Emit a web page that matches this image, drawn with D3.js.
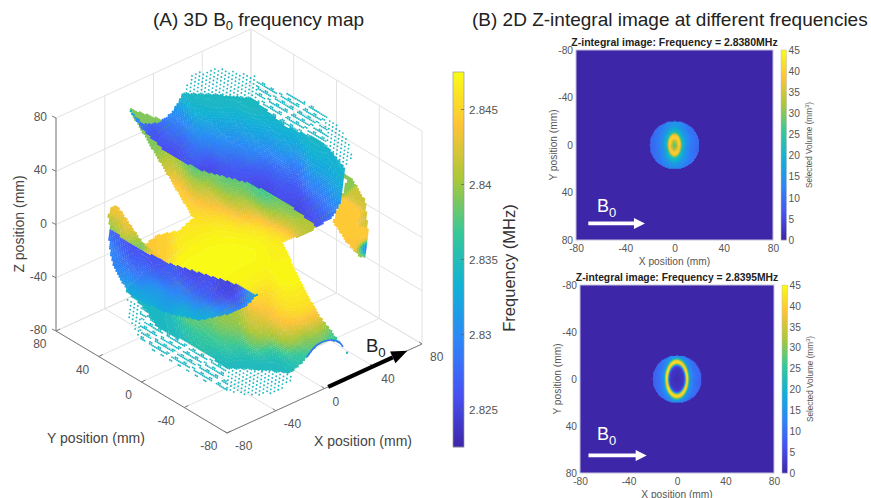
<!DOCTYPE html>
<html><head><meta charset="utf-8">
<script src="https://cdn.jsdelivr.net/npm/d3@7"></script>
<style>
html,body{margin:0;padding:0;background:#fff}
text{font-family:"Liberation Sans",Arial,sans-serif}
</style></head><body><svg id="c" width="871" height="498"></svg>
<script>
// ---------- values ----------
const axisTicks=[-80,-40,0,40,80];
const freqTicks=[2.825,2.83,2.835,2.84,2.845];
const freqTickLabels=["2.825","2.83","2.835","2.84","2.845"];
const freqDomain=[2.8225,2.8475];
const volumeTicks=[0,5,10,15,20,25,30,35,40,45];
const parulaStops=["#3e26a8","#4852f4","#2d87f7","#11b1d6","#37c897","#abc739","#fec338","#f9fb15"];

// surface outlines: [view-horizontal mm, view-vertical mm]
const topLobeOutline=[[-83.25,92.25],[-72,80.25],[-60.75,81],[-50.25,88.5],[-42,103.5],[-14.25,102],[10.5,99.75],[23.25,88.5],[36,78],[60.75,68.25],[70.5,58.5],[79.5,47.25],[79.5,42],[75.75,21],[69.75,9.75],[58.5,3],[45.75,13.5],[33,23.25],[8.25,36],[-29.25,45.75],[-54,58.5],[-72,75.75]];
const topFringeOutline=[[-42,103.5],[-35.25,118.5],[-14.25,122.25],[10.5,117],[30.75,105.75],[51,96],[73.5,81],[83.25,66],[84.75,54.75],[79.5,47.25],[70.5,58.5],[60.75,68.25],[36,78],[23.25,88.5],[10.5,99.75],[-14.25,102]];
const sheetOutline=[[-83.25,92.25],[-34.5,9.75],[-44.25,0.75],[-61.5,-3],[-70.5,-10.5],[-59.25,-24],[-85.5,-44.25],[-72,-57],[-61.5,-72],[-39,-84],[-21.75,-94.5],[-9,-102.75],[15.75,-104.25],[38.25,-106.5],[46,-100],[51,-94.5],[58.5,-85.5],[68.25,-81.75],[75.75,-84],[83.25,-94.5],[70.5,-76.5],[60.75,-64.5],[45.75,-36.75],[33,-9],[55.5,0.75],[68.25,12],[8.25,60.75]];
const fanFringeOutline=[[-84,-49.5],[-83.25,-64.5],[-74.25,-81.75],[-63,-91.5],[-31.5,-110.25],[-4.5,-121.5],[15.75,-124.5],[30.75,-119.25],[39.75,-111.75],[38.25,-106.5],[15.75,-104.25],[-9,-102.75],[-21.75,-94.5],[-39,-84],[-61.5,-72],[-72,-57]];
const lowerLobeOutline=[[-96.75,2.25],[-85.5,-6.75],[-72,-14.25],[-55.5,-23.25],[-29.25,-31.5],[-4.5,-39],[13.5,-48],[8.25,-54],[-4.5,-61.5],[-29.25,-66.75],[-54,-61.5],[-79.5,-49.5],[-89.25,-36.75],[-94.5,-25.5],[-97.5,-10.5]];
const stripeOutline=[[-95.25,18],[-91.5,18.75],[-87.75,14.25],[-72,-9],[-55.5,-23.25],[-72,-14.25],[-85.5,-6.75],[-96.75,2.25],[-98.25,12]];
const sideLobeOutline=[[73.5,45.75],[85.5,38.25],[94.5,23.25],[96.75,3],[95.25,-19.5],[90.75,-19.5],[81,-9],[70.5,6.75],[75.75,21],[81,38.25]];
const blueArc=[[51,-94.5],[58.5,-85.5],[68.25,-81.75],[75.75,-84],[78,-87]];

// frequency samples: [view-h mm, view-v mm, MHz]
const topLobeFreq=[[-83,92,2.836],[-74,82,2.83],[-63,79.5,2.8255],[-51.75,84,2.829],
[-36.75,105.75,2.8345],[-15,105.75,2.8345],[5,105.75,2.8345],
[-51.75,90.75,2.8325],[-29.25,90.75,2.834],[-6.75,90.75,2.834],[15.75,90.75,2.8345],[30.75,90.75,2.834],
[-66.75,75.75,2.8255],[-48,75.75,2.828],[-29.25,75.75,2.831],[-6.75,75.75,2.8315],[15.75,75.75,2.8325],[38.25,75.75,2.8335],[53.25,75.75,2.8345],
[-48,60.75,2.8255],[-29.25,60.75,2.828],[-6.75,60.75,2.829],[15.75,60.75,2.83],[38.25,60.75,2.8315],[60.75,60.75,2.834],
[-25.5,45.75,2.825],[-6.75,45.75,2.826],[15.75,45.75,2.8265],[38.25,45.75,2.828],[60.75,45.75,2.832],[75.75,45.75,2.834],
[15.75,30.75,2.825],[38.25,30.75,2.826],[60.75,30.75,2.829],[75.75,30.75,2.833],
[45.75,15.75,2.825],[60.75,15.75,2.8265],[70.5,15.75,2.8305],[58.5,6.75,2.8255]];
const fringeFreq=[[0,0,2.8345]];
const sheetFreq=[[-63,60.75,2.839],[-51.75,49.5,2.8415],[-36.75,49.5,2.8365],
[-48,38.25,2.8445],[-29.25,38.25,2.8385],[-6.75,38.25,2.8375],
[-48,27,2.8455],[-29.25,27,2.843],[-6.75,27,2.8395],[15.75,27,2.8365],
[-36.75,15.75,2.8455],[-14.25,15.75,2.8445],[8.25,15.75,2.842],[30.75,15.75,2.8385],[38.25,15.75,2.838],
[-36.75,4.5,2.846],[-14.25,4.5,2.8465],[8.25,4.5,2.846],[30.75,4.5,2.8445],[49.5,4.5,2.841],
[-59.25,-6.75,2.8445],[-36.75,-6.75,2.847],[-14.25,-6.75,2.8475],[8.25,-6.75,2.8475],[27,-6.75,2.847],
[-29.25,-21.75,2.8475],[0.75,-21.75,2.8475],[30.75,-21.75,2.847],
[8.25,-36.75,2.847],[38.25,-36.75,2.8475],
[19.5,-51.75,2.845],[38.25,-51.75,2.8465],[49.5,-51.75,2.846],
[-29.25,-66.75,2.8385],[-6.75,-66.75,2.84],[15.75,-66.75,2.8425],[38.25,-66.75,2.8445],[59.25,-66.75,2.844],
[-51.75,-81.75,2.8345],[-29.25,-81.75,2.8365],[-6.75,-81.75,2.8375],[15.75,-81.75,2.8395],[38.25,-81.75,2.8405],[57,-81.75,2.8385],
[72,-74,2.8365],[79.5,-89,2.8345],
[-18,-96.75,2.8345],[0.75,-96.75,2.8345],[23.25,-96.75,2.8345],[45.75,-96.75,2.8355],
[12,-105.75,2.8345],[34.5,-105.75,2.8345],
[-66.75,-63,2.8345],[-59.25,-78,2.8345],[-40,-85.5,2.8345],[-78,-48,2.8345]];
const lowerLobeFreq=[[-89.25,-10.5,2.826],[-78,-10.5,2.8255],[-96,-15,2.8315],
[-93,-21.75,2.8285],[-78,-21.75,2.827],[-63,-21.75,2.826],
[-89.25,-33,2.8305],[-74.25,-33,2.8285],[-55.5,-33,2.827],[-36.75,-33,2.8255],
[-81.75,-44.25,2.8325],[-63,-44.25,2.8305],[-44.25,-44.25,2.8285],[-25.5,-44.25,2.826],[-6.75,-44.25,2.825],
[-66.75,-51.75,2.833],[-48,-51.75,2.831],[-29.25,-51.75,2.8285],[-10.5,-51.75,2.8255],[4.5,-51.75,2.8255],[14,-48,2.8335],[9,-54,2.8335],
[-44.25,-60.75,2.8335],[-29.25,-62,2.833],[-10.5,-60.75,2.8325]];
const stripeFreq=[[-95,18,2.8435],[-90,10,2.8445],[-96,5,2.838],[-78,-1,2.8445],[-78,-7.5,2.8375],[-60,-20,2.8435]];
const sideLobeFreq=[[79.5,42,2.8395],[94.5,23,2.842],[87,12,2.8445],[87,-10.5,2.844],[96,-14,2.8255],[92,-5,2.8445],[79,4.5,2.8445],[93,-19,2.842],[96,10,2.842]];
const blueArcFreq=2.8285;
const kernelMm={top:8,sheet:8,lower:6,stripe:6,side:3.5};
const topStripeSpan=[14,66];
const fanStripeSpan=[-74,-9];

// radial volume profiles of the Z-integral images: elliptical radius (mm) -> mm^3
const profileARadius=[0,2,3.5,4.7,6,9,13,20,30];
const profileAVolume=[27,33,41,39,23,16,12,9,8];
const profileAStretch=1.8;
const profileBRadius=[0,5,6.2,7,7.8,9,9.8,10.8,14,20,30];
const profileBVolume=[1,2.5,4.5,20,42,42,26,15,11,8.5,8];
const profileBStretch=1.73;
const discRadius=20;
const arrowA=[[-70,66],[-24,66]], labelA=[-63,56.4];
const arrowB=[[-73,65],[-25,65]], labelB=[-66,52];
const b0Floor=[3,68,-80];

// ---------- setup ----------
const svg=d3.select("#c");
const defs=svg.append("defs");
defs.append("filter").attr("id","soft").attr("x","-5%").attr("y","-5%").attr("width","110%").attr("height","110%")
  .append("feGaussianBlur").attr("stdDeviation",0.45);
const parula=d3.scaleLinear().domain(parulaStops.map((_,i)=>i/7)).range(parulaStops).interpolate(d3.interpolateRgb).clamp(true);
const freq01=d3.scaleLinear().domain(freqDomain).range([0,1]).clamp(true);
const txt="#555";

// 3D box projection
const mm=d3.scaleLinear().domain([-80,80]);
const xToH=mm.copy().range([-97.5,97.5]), yToH=mm.copy().range([85.5,-85.5]);
const xToV=mm.copy().range([44.5,-44.5]), yToV=mm.copy().range([51,-51]);
const zToV=mm.copy().range([106.5,-106.5]);
const project=(x,y,z)=>[239+xToH(x)+yToH(y),337.5+xToV(x)+yToV(y)+zToV(z)-106.5];
const viewH=d3.scaleLinear().domain([-100,100]).range([239-133.33,239+133.33]);
const viewV=d3.scaleLinear().domain([-100,100]).range([231+133.33,231-133.33]);

const g3=svg.append("g");
const grid=g3.append("g").attr("stroke","#e2e2e2").attr("fill","none").attr("stroke-width",1);
const seg=(g,a,b)=>g.append("line").attr("x1",a[0]).attr("y1",a[1]).attr("x2",b[0]).attr("y2",b[1]);
axisTicks.forEach(t=>{
  seg(grid,project(t,80,-80),project(t,80,80));
  seg(grid,project(80,t,-80),project(80,t,80));
  seg(grid,project(-80,80,t),project(80,80,t));
  seg(grid,project(80,-80,t),project(80,80,t));
  seg(grid,project(t,-80,-80),project(t,80,-80));
  seg(grid,project(-80,t,-80),project(80,t,-80));
});
const ax=g3.append("g").attr("stroke","#7a7a7a").attr("stroke-width",1);
seg(ax,project(-80,80,-80),project(-80,-80,-80));
seg(ax,project(-80,-80,-80),project(80,-80,-80));
seg(ax,project(-80,80,-80),project(-80,80,80));
const label=(x,y,s,anchor,size)=>svg.append("text").attr("x",x).attr("y",y).attr("text-anchor",anchor||"middle")
  .attr("font-size",size||12).attr("fill",txt).text(s);
axisTicks.forEach(t=>{
  const pz=project(-80,80,t); seg(ax,[pz[0]-4,pz[1]-2],pz);
  const py=project(-80,t,-80); seg(ax,py,[py[0]+4,py[1]-2]);
  const px=project(t,-80,-80); seg(ax,px,[px[0]-3,px[1]-2]);
  label(pz[0]-9,pz[1]+3,t,"end");
  label(py[0]-9.5,py[1]+17,t,"end");
  label(px[0]+8,px[1]+17,t,"start");
});

// surface: dots on the view lattice, coloured from the read samples
const latA=[1.46,0.667], latB=[-1.283,0.765];
function sampleField(samples,h,v,sig){
  let a=0,b=0;
  const k=2*sig*sig;
  for(const s of samples){const d=(s[0]-h)*(s[0]-h)+(s[1]-v)*(s[1]-v);const w=Math.exp(-d/k)+1e-9;a+=w*s[2];b+=w;}
  return a/b;
}
const mod=(a,n)=>((a%n)+n)%n;
function drawRegion(parent,outline,samples,sig,stripeSpan){
  const ex=d3.extent(outline,d=>d[0]),ey=d3.extent(outline,d=>d[1]);
  const bins=new Map();
  for(let i=-130;i<=130;i++){
    for(let j=-130;j<=130;j++){
      const h=i*latA[0]+j*latB[0],v=i*latA[1]+j*latB[1];
      if(h<ex[0]||h>ex[1]||v<ey[0]||v>ey[1])continue;
      if(!d3.polygonContains(outline,[h,v]))continue;
      if(stripeSpan){
        const inStripe=h>stripeSpan[0]&&h<stripeSpan[1];
        if(inStripe){
          const main=mod(i,3)===0&&mod(j,13)>=2;
          const filler=mod(i,3)===1&&mod(j,5)<2;
          if(!main&&!filler)continue;
        }
        else if(mod(i,2)!==0||mod(j,2)!==0)continue;
      }
      const q=Math.round(freq01(sampleField(samples,h,v,sig))*80);
      if(!bins.has(q))bins.set(q,[]);
      bins.get(q).push("M"+viewH(h).toFixed(1)+","+viewV(v).toFixed(1)+"h0");
    }
  }
  const gr=parent.append("g").attr("fill","none").attr("stroke-linecap","round").attr("stroke-width",stripeSpan?1.9:2.4);
  for(const [q,ds] of bins){gr.append("path").attr("d",ds.join("")).attr("stroke",parula(q/80));}
}
const surf=g3.append("g").attr("filter","url(#soft)");
drawRegion(surf,fanFringeOutline,fringeFreq,9,fanStripeSpan);
drawRegion(surf,sheetOutline,sheetFreq,kernelMm.sheet);
surf.append("path").attr("d",d3.line().x(d=>viewH(d[0])).y(d=>viewV(d[1])).curve(d3.curveCatmullRom)(blueArc))
  .attr("fill","none").attr("stroke",parula(freq01(blueArcFreq))).attr("stroke-width",1.6);
drawRegion(surf,sideLobeOutline,sideLobeFreq,kernelMm.side);
drawRegion(surf,topFringeOutline,fringeFreq,9,topStripeSpan);
drawRegion(surf,topLobeOutline,topLobeFreq,kernelMm.top);
drawRegion(surf,lowerLobeOutline,lowerLobeFreq,kernelMm.lower);
drawRegion(surf,stripeOutline,stripeFreq,kernelMm.stripe);

// B0 arrow lying along the X axis
{
  const a=project(b0Floor[0],b0Floor[2],-80),b=project(b0Floor[1]-12,b0Floor[2],-80),c=project(b0Floor[1],b0Floor[2],-80);
  g3.append("line").attr("x1",a[0]).attr("y1",a[1]).attr("x2",b[0]).attr("y2",b[1]).attr("stroke","#000").attr("stroke-width",4.2);
  const dx=c[0]-b[0],dy=c[1]-b[1],l=Math.hypot(dx,dy),nx=-dy/l*6.5,ny=dx/l*6.5;
  g3.append("path").attr("d",d3.line()([[c[0],c[1]],[b[0]+nx,b[1]+ny],[b[0]-nx,b[1]-ny]])+"Z").attr("fill","#000");
}
function b0(x,y,size,fill){
  const t=svg.append("text").attr("x",x).attr("y",y).attr("font-size",size).attr("fill",fill).text("B");
  t.append("tspan").attr("dy",size*0.28).attr("font-size",size*0.72).text("0");
}
b0(366,352,18.5,"#222");

// frequency colourbar
const cbY=d3.scaleLinear().domain(freqDomain).range([447,72]);
const cb=svg.append("g");
d3.range(72,447).forEach(y=>cb.append("rect").attr("x",453).attr("y",y).attr("width",11).attr("height",1.2)
  .attr("fill",parula(freq01(cbY.invert(y+0.5)))));
cb.append("rect").attr("x",453).attr("y",72).attr("width",11).attr("height",375).attr("fill","none").attr("stroke","#999").attr("stroke-width",0.7);
freqTicks.forEach((f,i)=>{
  cb.append("line").attr("x1",461).attr("x2",464).attr("y1",cbY(f)).attr("y2",cbY(f)).attr("stroke","#666").attr("stroke-width",0.8);
  label(469,cbY(f)+4.5,freqTickLabels[i],"start",11.6);
});
const rot=(x,y,s,size,fill)=>svg.append("text").attr("transform",`translate(${x},${y}) rotate(-90)`).attr("text-anchor","middle")
  .attr("font-size",size).attr("fill",fill||txt).text(s);
rot(515,268,"Frequency (MHz)",16.5,"#333");
rot(24,224,"Z position (mm)",14,"#444");
label(96,443,"Y position (mm)","middle",14).attr("fill","#444");
label(363,446,"X position (mm)","middle",14).attr("fill","#444");

// panel titles
function title(x,y,pre,post){
  const t=svg.append("text").attr("x",x).attr("y",y).attr("font-size",19).attr("fill","#222").text(pre);
  t.append("tspan").attr("dy",4).attr("font-size",13).text("0");
  t.append("tspan").attr("dy",-4).text(post);
}
title(153,26,"(A) 3D B"," frequency map");
svg.append("text").attr("x",472).attr("y",26).attr("font-size",19).attr("fill","#222").text("(B) 2D Z-integral image at different frequencies");

// 2D panels
function panel(box,ttl,radii,vols,stretch,cbX,ylabX,arrowMm,labelMm,ttlSize){
  const x=d3.scaleLinear().domain([-80,80]).range([box.l,box.r]);
  const y=d3.scaleLinear().domain([-80,80]).range([box.t,box.b]);
  const profile=d3.scaleLinear().domain(radii).range(vols);
  const vol01=d3.scaleLinear().domain([0,45]).range([0,1]).clamp(true);
  const g=svg.append("g");
  g.append("rect").attr("x",box.l).attr("y",box.t).attr("width",box.r-box.l).attr("height",box.b-box.t).attr("fill",parula(0));
  const cells=g.append("g").attr("filter","url(#soft)");
  const step=0.8;
  for(let a=-discRadius;a<=discRadius;a+=step)for(let b=-discRadius;b<=discRadius;b+=step){
    if(Math.hypot(a,b)>discRadius)continue;
    cells.append("rect").attr("x",x(a-step/2)).attr("y",y(b-step/2)).attr("width",x(step)-x(0)+0.4).attr("height",y(step)-y(0)+0.4)
      .attr("fill",parula(vol01(profile(Math.hypot(a,b/stretch)))));
  }
  g.append("rect").attr("x",box.l).attr("y",box.t).attr("width",box.r-box.l).attr("height",box.b-box.t).attr("fill","none").attr("stroke","#c4c2da").attr("stroke-width",1);
  const styleAxis=s=>{s.select(".domain").remove();s.selectAll("text").attr("fill",txt).attr("font-size",10.2).attr("font-family",'"Liberation Sans",Arial,sans-serif');s.selectAll("line").remove();};
  g.append("g").attr("transform",`translate(0,${box.b})`).call(d3.axisBottom(x).tickValues(axisTicks).tickFormat(String).tickSize(0).tickPadding(5)).call(styleAxis);
  g.append("g").attr("transform",`translate(${box.l},0)`).call(d3.axisLeft(y).tickValues(axisTicks).tickFormat(String).tickSize(0).tickPadding(3)).call(styleAxis);
  svg.append("text").attr("x",(box.l+box.r)/2).attr("y",box.t-4.5).attr("text-anchor","middle").attr("font-size",ttlSize).attr("font-weight","bold").attr("fill","#222").text(ttl);
  label((box.l+box.r)/2,box.b+24.5,"X position (mm)","middle",10.2);
  rot(ylabX,(box.t+box.b)/2,"Y position (mm)",10.2);
  // colourbar
  const cy=d3.scaleLinear().domain([0,45]).range([box.b,box.t]);
  for(let p=box.t;p<box.b;p++) g.append("rect").attr("x",cbX).attr("y",p).attr("width",5.5).attr("height",1.2).attr("fill",parula(vol01(cy.invert(p+0.5))));
  g.append("rect").attr("x",cbX).attr("y",box.t).attr("width",5.5).attr("height",box.b-box.t).attr("fill","none").attr("stroke","#bbb").attr("stroke-width",0.5);
  g.append("g").attr("transform",`translate(${cbX+5.5},0)`).call(d3.axisRight(cy).tickValues(volumeTicks).tickSize(0).tickPadding(2)).call(styleAxis);
  const v=svg.append("text").attr("transform",`translate(${cbX+30.5},${(box.t+box.b)/2}) rotate(-90)`).attr("text-anchor","middle").attr("font-size",8.2).attr("fill",txt).text("Selected Volume (mm");
  v.append("tspan").attr("dy",-3).attr("font-size",6).text("3");
  v.append("tspan").attr("dy",3).text(")");
  // B0 arrow
  const a=[x(arrowMm[0][0]),y(arrowMm[0][1])],e=[x(arrowMm[1][0]),y(arrowMm[1][1])];
  g.append("line").attr("x1",a[0]).attr("y1",a[1]).attr("x2",e[0]-10).attr("y2",e[1]).attr("stroke","#fff").attr("stroke-width",3.6);
  g.append("path").attr("d",d3.line()([[e[0],e[1]],[e[0]-11,e[1]-5.5],[e[0]-11,e[1]+5.5]])+"Z").attr("fill","#fff");
  b0(x(labelMm[0]),y(labelMm[1]),18,"#fff");
}
panel({l:576,r:773,t:50,b:240},"Z-integral image: Frequency = 2.8380MHz",profileARadius,profileAVolume,profileAStretch,781,557,arrowA,labelA,10.5);
panel({l:580,r:774,t:285,b:473},"Z-integral image: Frequency = 2.8395MHz",profileBRadius,profileBVolume,profileBStretch,782,561,arrowB,labelB,10.3);
</script></body></html>
